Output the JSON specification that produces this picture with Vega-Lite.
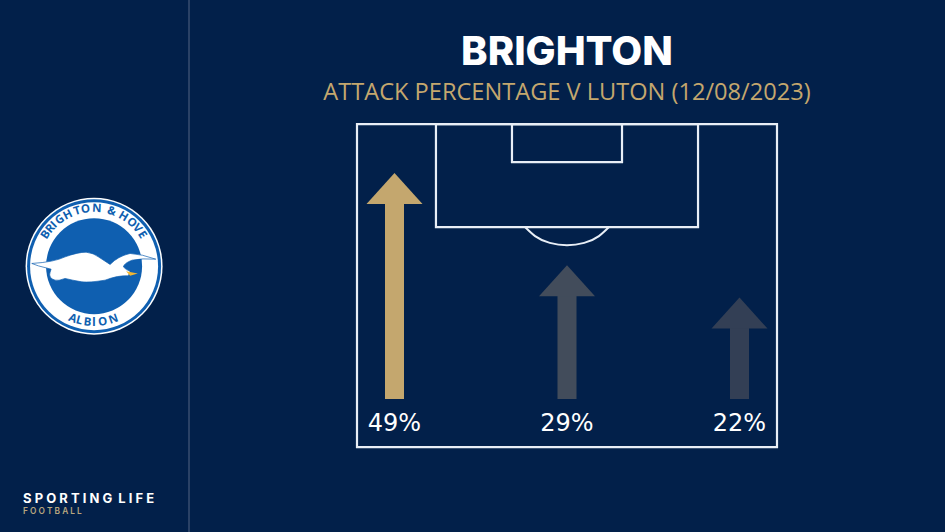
{
"$schema":"https://vega.github.io/schema/vega-lite/v6.json",
"width":945,"height":532,"padding":0,
"autosize":{"type":"none"},
"background":"#02204a",
"config":{"view":{"stroke":null},"axis":{"disable":true},"legend":{"disable":true}},
"datasets":{
"arrows":[{"channel":"Left","share":0.49},{"channel":"Centre","share":0.29},{"channel":"Right","share":0.22}],
"pitch":[{"zone":"Pitch","x0":0,"x1":100,"y0":0,"y1":100},{"zone":"Penalty area","x0":18.8,"x1":81.2,"y0":68.1,"y1":100},{"zone":"Six-yard box","x0":36.9,"x1":63.1,"y0":88.2,"y1":100}],
"arc":[{"x":40,"y":68.1},{"x":42.4,"y":65.3},{"x":45.9,"y":63.2},{"x":50,"y":62.5},{"x":54.1,"y":63.2},{"x":57.6,"y":65.3},{"x":60,"y":68.1}],
"topText":[{"c":"B","deg":-57},{"c":"R","deg":-49.5},{"c":"I","deg":-44},{"c":"G","deg":-36.5},{"c":"H","deg":-27},{"c":"T","deg":-17},{"c":"O","deg":-8.5},{"c":"N","deg":2.7},{"c":"&","deg":17.8},{"c":"H","deg":30.6},{"c":"O","deg":41},{"c":"V","deg":49},{"c":"E","deg":57}],
"bottomText":[{"c":"A","deg":22},{"c":"L","deg":15},{"c":"B","deg":6.5},{"c":"I","deg":0},{"c":"O","deg":-9},{"c":"N","deg":-20}]
},
"resolve":{"scale":{"x":"independent","y":"independent","theta":"independent","color":"independent"}},
"layer":[
{"data":{"values":[{"a":1}]},"mark":{"type":"rule","color":"#47597a","strokeWidth":1.2},"encoding":{"x":{"datum":-40,"type":"quantitative","scale":{"domain":[-85,140],"nice":false,"zero":false}}}},
{"data":{"name":"pitch"},"mark":{"type":"rect","fill":"transparent","stroke":"#e8eef6","strokeWidth":2.2},
 "encoding":{"x":{"field":"x0","type":"quantitative","scale":{"domain":[-85,140],"nice":false,"zero":false}},"x2":{"field":"x1"},"y":{"field":"y0","type":"quantitative","scale":{"domain":[-26.3,138.4],"nice":false,"zero":false}},"y2":{"field":"y1"}}},
{"data":{"name":"arc"},"mark":{"type":"line","color":"#e8eef6","strokeWidth":2,"interpolate":"monotone"},
 "encoding":{"x":{"field":"x","type":"quantitative","scale":{"domain":[-85,140],"nice":false,"zero":false}},"y":{"field":"y","type":"quantitative","scale":{"domain":[-26.3,138.4],"nice":false,"zero":false}}}},
{"data":{"name":"arrows"},"mark":{"type":"bar","size":19,"yOffset":29},
 "encoding":{"x":{"field":"channel","type":"nominal","sort":null,"scale":{"type":"point","domain":["Left","Centre","Right"],"range":[394.5,739.5],"padding":0}},
 "y":{"field":"share","type":"quantitative","scale":{"domain":[-0.2885,0.8655],"nice":false,"zero":false}},"y2":{"datum":0},
 "color":{"field":"channel","type":"nominal","scale":{"domain":["Left","Centre","Right"],"range":["#c4a76e","#424c5b","#333f55"]}}}},
{"data":{"name":"arrows"},"mark":{"type":"point","filled":true,"opacity":1,"size":3136,"shape":"M0,0 L1,1.107 L-1,1.107 Z"},
 "encoding":{"x":{"field":"channel","type":"nominal","sort":null,"scale":{"type":"point","domain":["Left","Centre","Right"],"range":[394.5,739.5],"padding":0}},
 "y":{"field":"share","type":"quantitative","scale":{"domain":[-0.2885,0.8655],"nice":false,"zero":false}},
 "color":{"field":"channel","type":"nominal","scale":{"domain":["Left","Centre","Right"],"range":["#c4a76e","#424c5b","#333f55"]}}}},
{"data":{"name":"arrows"},"mark":{"type":"text","fontSize":24,"font":"DejaVu Sans","color":"#ffffff"},
 "encoding":{"x":{"field":"channel","type":"nominal","sort":null,"scale":{"type":"point","domain":["Left","Centre","Right"],"range":[394.5,739.5],"padding":0}},
 "y":{"datum":-0.054,"type":"quantitative","scale":{"domain":[-0.2885,0.8655],"nice":false,"zero":false}},
 "text":{"field":"share","type":"quantitative","format":".0%"}}},
{"data":{"values":[{"t":"BRIGHTON"}]},"mark":{"type":"text","fontSize":40,"fontWeight":800,"font":"Inter","color":"#ffffff"},
 "encoding":{"x":{"datum":50,"type":"quantitative","scale":{"domain":[-85,140],"nice":false,"zero":false}},"y":{"datum":122,"type":"quantitative","scale":{"domain":[-26.3,138.4],"nice":false,"zero":false}},"text":{"field":"t"}}},
{"data":{"values":[{"t":"ATTACK PERCENTAGE V LUTON (12/08/2023)"}]},"mark":{"type":"text","fontSize":23.6,"font":"Open Sans","color":"#c4a76e"},
 "encoding":{"x":{"datum":50,"type":"quantitative","scale":{"domain":[-85,140],"nice":false,"zero":false}},"y":{"datum":109.7,"type":"quantitative","scale":{"domain":[-26.3,138.4],"nice":false,"zero":false}},"text":{"field":"t"}}},
{"data":{"values":[{"t":"S P O R T I N G\u00a0\u00a0L I F E"}]},"mark":{"type":"text","fontSize":13,"fontWeight":700,"font":"Inter","color":"#ffffff","align":"left"},
 "encoding":{"x":{"datum":-79.5,"type":"quantitative","scale":{"domain":[-85,140],"nice":false,"zero":false}},"y":{"datum":-16,"type":"quantitative","scale":{"domain":[-26.3,138.4],"nice":false,"zero":false}},"text":{"field":"t"}}},
{"data":{"values":[{"t":"F O O T B A L L"}]},"mark":{"type":"text","fontSize":8.3,"font":"Inter","fontWeight":600,"color":"#b8a67e","align":"left"},
 "encoding":{"x":{"datum":-79.5,"type":"quantitative","scale":{"domain":[-85,140],"nice":false,"zero":false}},"y":{"datum":-20,"type":"quantitative","scale":{"domain":[-26.3,138.4],"nice":false,"zero":false}},"text":{"field":"t"}}},
{"data":{"values":[{"part":"White rim"}]},"mark":{"type":"point","shape":"circle","filled":true,"opacity":1,"color":"#ffffff","size":18769},
 "encoding":{"x":{"datum":-62.6,"type":"quantitative","scale":{"domain":[-85,140],"nice":false,"zero":false}},"y":{"datum":56,"type":"quantitative","scale":{"domain":[-26.3,138.4],"nice":false,"zero":false}}}},
{"data":{"values":[{"part":"Blue ring"}]},"mark":{"type":"point","shape":"circle","filled":true,"opacity":1,"color":"#0f5fb0","size":17956},
 "encoding":{"x":{"datum":-62.6,"type":"quantitative","scale":{"domain":[-85,140],"nice":false,"zero":false}},"y":{"datum":56,"type":"quantitative","scale":{"domain":[-26.3,138.4],"nice":false,"zero":false}}}},
{"data":{"values":[{"part":"White band"}]},"mark":{"type":"point","shape":"circle","filled":true,"opacity":1,"color":"#ffffff","size":16384},
 "encoding":{"x":{"datum":-62.6,"type":"quantitative","scale":{"domain":[-85,140],"nice":false,"zero":false}},"y":{"datum":56,"type":"quantitative","scale":{"domain":[-26.3,138.4],"nice":false,"zero":false}}}},
{"data":{"values":[{"part":"Blue centre"}]},"mark":{"type":"point","shape":"circle","filled":true,"opacity":1,"color":"#0f5fb0","size":9216},
 "encoding":{"x":{"datum":-62.6,"type":"quantitative","scale":{"domain":[-85,140],"nice":false,"zero":false}},"y":{"datum":56,"type":"quantitative","scale":{"domain":[-26.3,138.4],"nice":false,"zero":false}}}},
{"data":{"values":[{"part":"Gull"}]},"mark":{"type":"point","filled":true,"opacity":1,"fill":"#ffffff","stroke":"#0f5fb0","strokeWidth":0.7,"size":4,"shape":"M-62.3,-2.7 Q-40,-4 -29,-9.3 Q-16,-14 -8,-14 Q0,-13 4.3,-9.3 L16,-1.7 Q24,-10 36,-12.7 Q48,-12 61.7,-7 Q48,-8 38,-6 Q30,-3 29.3,0.7 Q32,4 36,5 L34.3,9.7 Q24,9 11,14 Q-4,16.5 -12.3,15.7 Q-22,14 -29,12.3 Q-36,15 -39,14 Q-46,12 -44,6 L-43,3 L-55.7,-0.3 Z"},
 "encoding":{"x":{"datum":-62.6,"type":"quantitative","scale":{"domain":[-85,140],"nice":false,"zero":false}},"y":{"datum":56,"type":"quantitative","scale":{"domain":[-26.3,138.4],"nice":false,"zero":false}}}},
{"data":{"values":[{"part":"Beak"}]},"mark":{"type":"point","filled":true,"opacity":1,"color":"#f2b632","size":4,"shape":"M32,5 L43.7,7.3 L36,9.7 Z"},
 "encoding":{"x":{"datum":-62.6,"type":"quantitative","scale":{"domain":[-85,140],"nice":false,"zero":false}},"y":{"datum":56,"type":"quantitative","scale":{"domain":[-26.3,138.4],"nice":false,"zero":false}}}},
{"data":{"name":"topText"},"mark":{"type":"text","x":94,"y":266,"radius":57,"fontSize":11.5,"fontWeight":700,"font":"Open Sans","color":"#0f5fb0","baseline":"middle"},
 "encoding":{"theta":{"field":"deg","type":"quantitative","scale":{"domain":[-180,180],"range":[-3.14159,3.14159]}},"angle":{"field":"deg","type":"quantitative","scale":null},"text":{"field":"c"}}},
{"data":{"name":"bottomText"},"mark":{"type":"text","x":94,"y":266,"radius":57,"fontSize":11.5,"fontWeight":700,"font":"Open Sans","color":"#0f5fb0","baseline":"middle"},
 "encoding":{"theta":{"field":"deg","type":"quantitative","scale":{"domain":[-180,180],"range":[0,6.28318]}},"angle":{"field":"deg","type":"quantitative","scale":null},"text":{"field":"c"}}}
]
}
